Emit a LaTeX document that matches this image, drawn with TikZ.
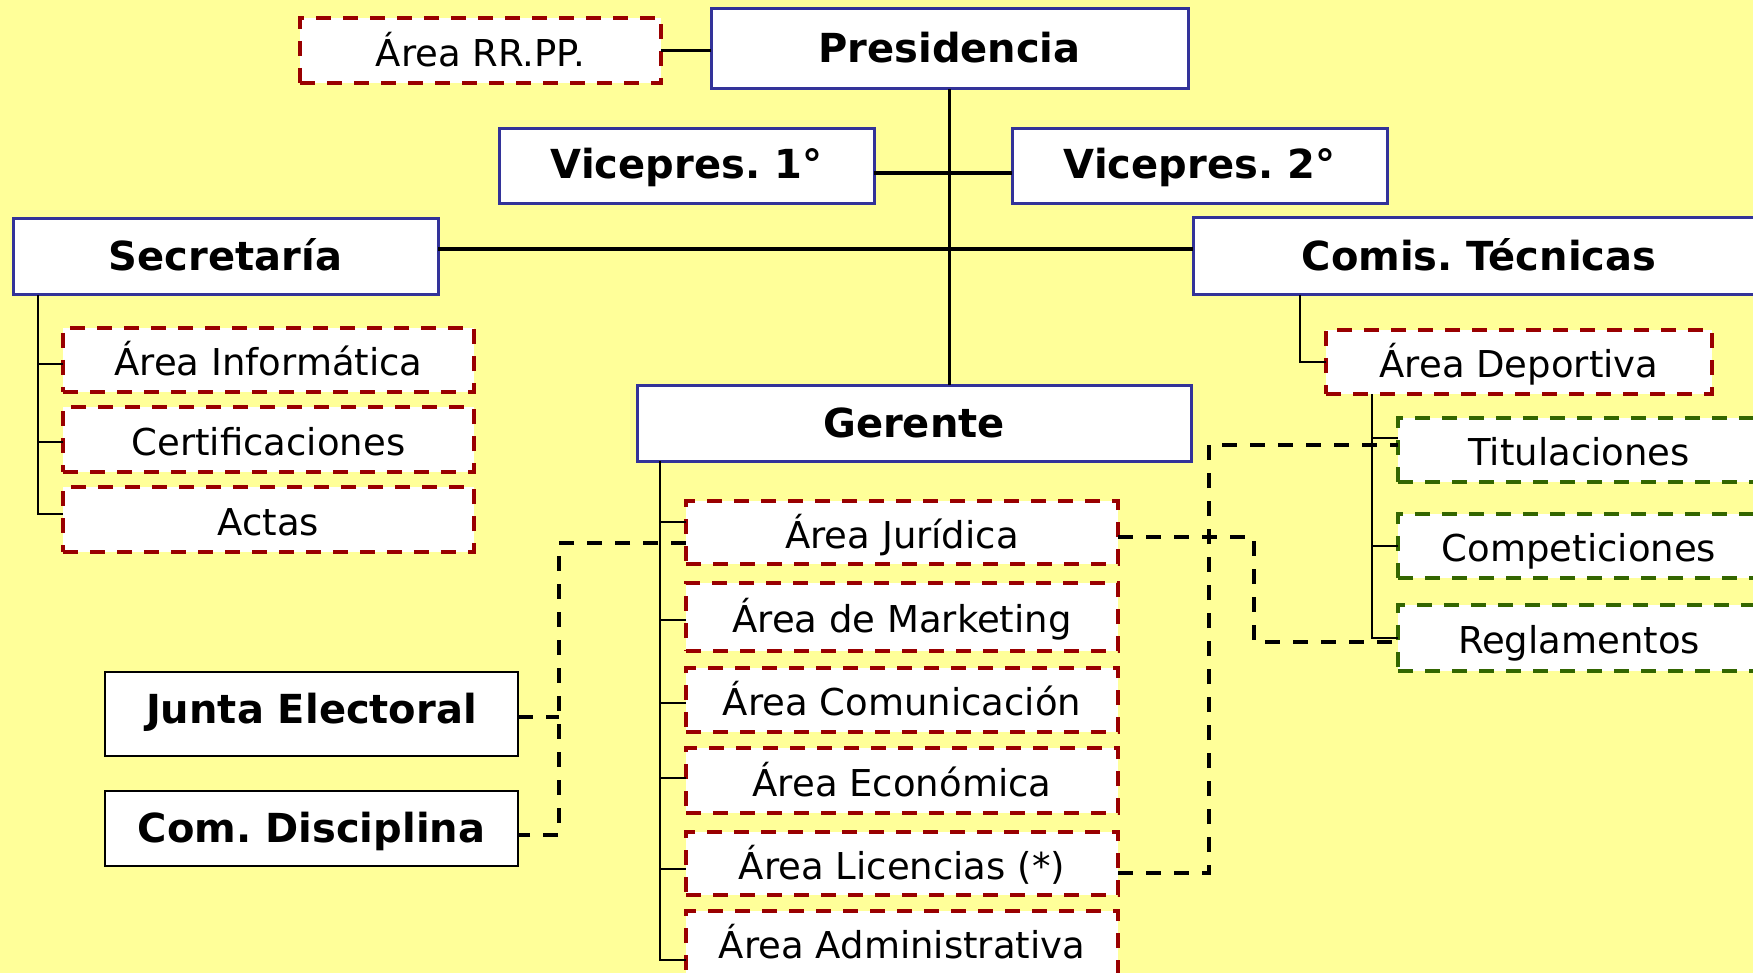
\documentclass[tikz,border=0pt]{standalone}
\usepackage{fontspec}
\setmainfont{DejaVu Sans}
\usetikzlibrary{calc}
\definecolor{bg}{HTML}{FFFF99}
\definecolor{bluebd}{HTML}{333399}
\definecolor{redbd}{HTML}{990000}
\definecolor{greenbd}{HTML}{336600}
\begin{document}
\frenchspacing
\begin{tikzpicture}[x=1pt,y=-1pt,
  bx/.style 2 args={minimum width=#1, minimum height=#2},
  box/.style={draw, fill=white, inner sep=0pt, outer sep=0pt, align=center, text=black},
  head/.style={box, draw=bluebd, line width=3pt, text height=28pt, text depth=0pt, font=\bfseries\fontsize{40}{48}\selectfont},
  area/.style={box, draw=redbd, line width=4pt, dash pattern=on 15pt off 12pt, text height=31pt, text depth=0pt, font=\fontsize{37}{44}\selectfont},
  sub/.style={area, draw=greenbd},
  side/.style={box, draw=black, line width=2pt, text height=28pt, text depth=0pt, font=\bfseries\fontsize{40}{48}\selectfont},
  link/.style={draw=black, line width=3.2pt},
  thinlink/.style={draw=black, line width=1.9pt},
  dlink/.style={draw=black, line width=3.8pt, dash pattern=on 15pt off 13pt},
]
\useasboundingbox (0,0) rectangle (1753,973);
\clip (0,0) rectangle (1753,973);
\fill[bg] (0,0) rectangle (1753,973);

% nodes
\node[head, bx={477}{80}] (pres) at (949.5,49) {Presidencia};
\node[area, bx={361}{65}, text height=33pt] (rrpp) at (480.5,50.5) {Área RR.PP.};
\node[head, bx={375}{75}, text height=24pt] (vp1) at (686.5,166.5) {Vicepres. 1°};
\node[head, bx={375}{75}, text height=24pt] (vp2) at (1199.5,166.5) {Vicepres. 2°};
\node[head, bx={425}{76}] (secr) at (225.5,257) {Secretaría};
\node[head, bx={572}{77}] (comis) at (1479,256.5) {Comis. Técnicas};
\node[head, bx={554}{76}] (ger) at (914,423) {Gerente};
\node[area, bx={411}{64}] (inf) at (268.5,360) {Área Informática};
\node[area, bx={411}{65}] (cert) at (268.5,439.5) {Certificaciones};
\node[area, bx={411}{65}] (actas) at (268.5,519.5) {Actas};
\node[area, bx={386}{64}] (dep) at (1519,362) {Área Deportiva};
\node[sub, bx={362}{64}] (tit) at (1579,450) {Titulaciones};
\node[sub, bx={362}{64}] (comp) at (1579,546) {Competiciones};
\node[sub, bx={362}{66}] (regl) at (1579,638) {Reglamentos};
\node[area, bx={432}{63}] (jur) at (902,532.5) {Área Jurídica};
\node[area, bx={432}{68}] (mkt) at (902,617) {Área de Marketing};
\node[area, bx={432}{64}] (comu) at (902,700) {Área Comunicación};
\node[area, bx={432}{65}] (eco) at (902,780.5) {Área Económica};
\node[area, bx={432}{63}] (lic) at (902,863.5) {Área Licencias (*)};
\node[area, bx={432}{64}] (adm) at (902,943) {Área Administrativa};
\node[side, bx={413}{84}, text height=19pt] (junta) at (311.5,714) {Junta Electoral};
\node[side, bx={413}{75}] (disc) at (311.5,828.5) {Com. Disciplina};

% trunk x positions
\coordinate (sx) at (38,0);
\coordinate (cx) at (1300,0);
\coordinate (dx) at (1372,0);
\coordinate (gx) at (660,0);
\coordinate (lx) at (559,0);
\coordinate (rxa) at (1254,0);
\coordinate (rxb) at (1209,0);

% solid connectors
\draw[link] (rrpp.east) -- (rrpp.east -| pres.west);
\draw[link] (pres.south) -- (pres.south |- ger.north);
\draw[link, line width=4.2pt] ($(vp1.east)+(0,6.5)$) -- ($(vp2.west)+(0,6.5)$);
\draw[link] ($(secr.east)+(0,-8)$) -- ($(comis.west)+(0,-7.5)$);

\draw[thinlink] (secr.south -| sx) -- ($(actas.west -| sx)+(0,-5.5)$) -- ($(actas.west)+(0,-5.5)$);
\draw[thinlink] ($(inf.west -| sx)+(0,4)$) -- ($(inf.west)+(0,4)$);
\draw[thinlink] ($(cert.west -| sx)+(0,2.5)$) -- ($(cert.west)+(0,2.5)$);

\draw[thinlink] (comis.south -| cx) |- (dep.west);
\draw[thinlink] (dep.south -| dx) -- (regl.west -| dx) -- (regl.west);
\draw[thinlink] ($(tit.west -| dx)+(0,-12)$) -- ($(tit.west)+(0,-12)$);
\draw[thinlink] (comp.west -| dx) -- (comp.west);

\draw[thinlink] (ger.south -| gx) -- ($(adm.west -| gx)+(0,17)$) -- ($(adm.west)+(0,17)$);
\draw[thinlink] ($(jur.west -| gx)+(0,-10.5)$) -- ($(jur.west)+(0,-10.5)$);
\draw[thinlink] ($(mkt.west -| gx)+(0,3)$) -- ($(mkt.west)+(0,3)$);
\draw[thinlink] ($(comu.west -| gx)+(0,3)$) -- ($(comu.west)+(0,3)$);
\draw[thinlink] ($(eco.west -| gx)+(0,-2.5)$) -- ($(eco.west)+(0,-2.5)$);
\draw[thinlink] ($(lic.west -| gx)+(0,5.5)$) -- ($(lic.west)+(0,5.5)$);

% dashed connectors
\draw[dlink] ($(jur.west)+(0,10.5)$) -| ($(disc.east -| lx)+(0,6.5)$) -- ($(disc.east)+(0,6.5)$);
\draw[dlink] ($(junta.east)+(0,3)$) -- ($(junta.east -| lx)+(0,3)$);
\draw[dlink] ($(jur.east)+(0,4.5)$) -| ($(regl.west -| rxa)+(0,4)$) -- ($(regl.west)+(0,4)$);
\draw[dlink] ($(lic.east)+(0,9.5)$) -| ($(tit.west -| rxb)+(0,-5)$) -- ($(tit.west)+(0,-5)$);
\end{tikzpicture}
\end{document}
